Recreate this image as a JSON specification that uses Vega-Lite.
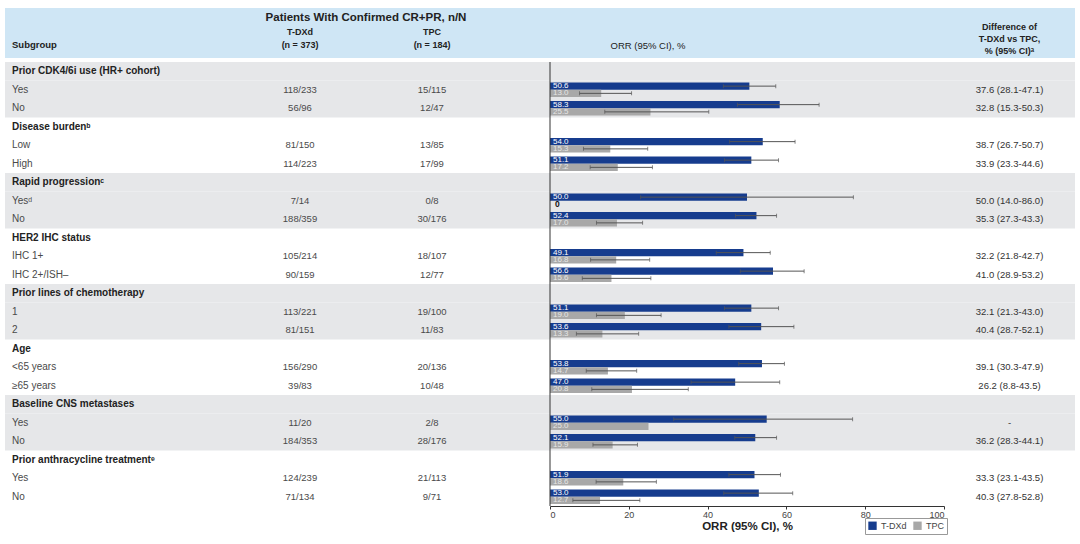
{
  "$schema": "https://vega.github.io/schema/vega-lite/v6.json",
  "padding": {"left": 5, "top": 8, "right": 5, "bottom": 0},
  "background": "white",
  "spacing": 3,
  "config": {
    "view": {"stroke": null},
    "font": "Liberation Sans",
    "text": {"font": "Liberation Sans"}
  },
  "datasets": {
    "rows": [
      {"row": 1, "gi": 0, "type": "cat", "label": "Prior CDK4/6i use (HR+ cohort)"},
      {"row": 2, "gi": 0, "type": "item", "label": "Yes", "tdxd_n": "118/233", "tpc_n": "15/115", "diff": "37.6 (28.1-47.1)"},
      {"row": 3, "gi": 0, "type": "item", "label": "No", "tdxd_n": "56/96", "tpc_n": "12/47", "diff": "32.8 (15.3-50.3)"},
      {"row": 4, "gi": 1, "type": "cat", "label": "Disease burdenᵇ"},
      {"row": 5, "gi": 1, "type": "item", "label": "Low", "tdxd_n": "81/150", "tpc_n": "13/85", "diff": "38.7 (26.7-50.7)"},
      {"row": 6, "gi": 1, "type": "item", "label": "High", "tdxd_n": "114/223", "tpc_n": "17/99", "diff": "33.9 (23.3-44.6)"},
      {"row": 7, "gi": 2, "type": "cat", "label": "Rapid progressionᶜ"},
      {"row": 8, "gi": 2, "type": "item", "label": "Yesᵈ", "tdxd_n": "7/14", "tpc_n": "0/8", "diff": "50.0 (14.0-86.0)"},
      {"row": 9, "gi": 2, "type": "item", "label": "No", "tdxd_n": "188/359", "tpc_n": "30/176", "diff": "35.3 (27.3-43.3)"},
      {"row": 10, "gi": 3, "type": "cat", "label": "HER2 IHC status"},
      {"row": 11, "gi": 3, "type": "item", "label": "IHC 1+", "tdxd_n": "105/214", "tpc_n": "18/107", "diff": "32.2 (21.8-42.7)"},
      {"row": 12, "gi": 3, "type": "item", "label": "IHC 2+/ISH–", "tdxd_n": "90/159", "tpc_n": "12/77", "diff": "41.0 (28.9-53.2)"},
      {"row": 13, "gi": 4, "type": "cat", "label": "Prior lines of chemotherapy"},
      {"row": 14, "gi": 4, "type": "item", "label": "1", "tdxd_n": "113/221", "tpc_n": "19/100", "diff": "32.1 (21.3-43.0)"},
      {"row": 15, "gi": 4, "type": "item", "label": "2", "tdxd_n": "81/151", "tpc_n": "11/83", "diff": "40.4 (28.7-52.1)"},
      {"row": 16, "gi": 5, "type": "cat", "label": "Age"},
      {"row": 17, "gi": 5, "type": "item", "label": "<65 years", "tdxd_n": "156/290", "tpc_n": "20/136", "diff": "39.1 (30.3-47.9)"},
      {"row": 18, "gi": 5, "type": "item", "label": "≥65 years", "tdxd_n": "39/83", "tpc_n": "10/48", "diff": "26.2 (8.8-43.5)"},
      {"row": 19, "gi": 6, "type": "cat", "label": "Baseline CNS metastases"},
      {"row": 20, "gi": 6, "type": "item", "label": "Yes", "tdxd_n": "11/20", "tpc_n": "2/8", "diff": "-"},
      {"row": 21, "gi": 6, "type": "item", "label": "No", "tdxd_n": "184/353", "tpc_n": "28/176", "diff": "36.2 (28.3-44.1)"},
      {"row": 22, "gi": 7, "type": "cat", "label": "Prior anthracycline treatmentᵉ"},
      {"row": 23, "gi": 7, "type": "item", "label": "Yes", "tdxd_n": "124/239", "tpc_n": "21/113", "diff": "33.3 (23.1-43.5)"},
      {"row": 24, "gi": 7, "type": "item", "label": "No", "tdxd_n": "71/134", "tpc_n": "9/71", "diff": "40.3 (27.8-52.8)"}
    ],
    "bars": [
      {"row": 2, "series": "T-DXd", "orr": 50.6, "lo": 44.0, "hi": 57.3},
      {"row": 2, "series": "TPC", "orr": 13.0, "lo": 7.5, "hi": 20.7},
      {"row": 3, "series": "T-DXd", "orr": 58.3, "lo": 47.6, "hi": 68.3},
      {"row": 3, "series": "TPC", "orr": 25.5, "lo": 13.9, "hi": 40.3},
      {"row": 5, "series": "T-DXd", "orr": 54.0, "lo": 45.6, "hi": 62.2},
      {"row": 5, "series": "TPC", "orr": 15.3, "lo": 8.5, "hi": 24.8},
      {"row": 6, "series": "T-DXd", "orr": 51.1, "lo": 44.3, "hi": 58.0},
      {"row": 6, "series": "TPC", "orr": 17.2, "lo": 10.2, "hi": 26.0},
      {"row": 8, "series": "T-DXd", "orr": 50.0, "lo": 23.0, "hi": 77.0},
      {"row": 8, "series": "TPC", "orr": 0, "lo": null, "hi": null},
      {"row": 9, "series": "T-DXd", "orr": 52.4, "lo": 47.1, "hi": 57.5},
      {"row": 9, "series": "TPC", "orr": 17.0, "lo": 11.8, "hi": 23.5},
      {"row": 11, "series": "T-DXd", "orr": 49.1, "lo": 42.2, "hi": 55.9},
      {"row": 11, "series": "TPC", "orr": 16.8, "lo": 10.3, "hi": 25.3},
      {"row": 12, "series": "T-DXd", "orr": 56.6, "lo": 48.3, "hi": 64.5},
      {"row": 12, "series": "TPC", "orr": 15.6, "lo": 8.2, "hi": 25.6},
      {"row": 14, "series": "T-DXd", "orr": 51.1, "lo": 44.3, "hi": 58.0},
      {"row": 14, "series": "TPC", "orr": 19.0, "lo": 11.8, "hi": 28.2},
      {"row": 15, "series": "T-DXd", "orr": 53.6, "lo": 45.4, "hi": 61.9},
      {"row": 15, "series": "TPC", "orr": 13.3, "lo": 6.7, "hi": 22.5},
      {"row": 17, "series": "T-DXd", "orr": 53.8, "lo": 47.9, "hi": 59.5},
      {"row": 17, "series": "TPC", "orr": 14.7, "lo": 9.2, "hi": 22.0},
      {"row": 18, "series": "T-DXd", "orr": 47.0, "lo": 35.8, "hi": 58.3},
      {"row": 18, "series": "TPC", "orr": 20.8, "lo": 10.6, "hi": 35.1},
      {"row": 20, "series": "T-DXd", "orr": 55.0, "lo": 31.4, "hi": 76.8},
      {"row": 20, "series": "TPC", "orr": 25.0, "lo": null, "hi": null},
      {"row": 21, "series": "T-DXd", "orr": 52.1, "lo": 46.9, "hi": 57.5},
      {"row": 21, "series": "TPC", "orr": 15.9, "lo": 10.9, "hi": 22.2},
      {"row": 23, "series": "T-DXd", "orr": 51.9, "lo": 45.4, "hi": 58.5},
      {"row": 23, "series": "TPC", "orr": 18.6, "lo": 11.7, "hi": 27.0},
      {"row": 24, "series": "T-DXd", "orr": 53.0, "lo": 44.1, "hi": 61.6},
      {"row": 24, "series": "TPC", "orr": 12.7, "lo": 5.8, "hi": 22.8}
    ]
  },
  "vconcat": [
    {
      "spacing": 0,
      "bounds": "flush",
      "hconcat": [
        {
          "width": 229, "height": 50,
          "view": {"fill": "#cfe6f5", "stroke": null},
          "data": {"values": [{"t": "Subgroup"}]},
          "mark": {"type": "text", "align": "left", "dx": 7, "dy": 12, "fontWeight": "bold", "fontSize": 9.5, "color": "#222"},
          "encoding": {"text": {"field": "t"}, "x": {"value": 0}}
        },
        {
          "width": 264, "height": 50,
          "view": {"fill": "#cfe6f5", "stroke": null},
          "layer": [
            {
              "data": {"values": [{"t": "Patients With Confirmed CR+PR, n/N"}]},
              "mark": {"type": "text", "dy": -15, "fontWeight": "bold", "fontSize": 11.5, "color": "#222"},
              "encoding": {"text": {"field": "t"}}
            },
            {
              "data": {"values": [{"col": "tdxd_n", "t": "T-DXd\n(n = 373)"}, {"col": "tpc_n", "t": "TPC\n(n = 184)"}]},
              "mark": {"type": "text", "dy": -1, "fontWeight": "bold", "fontSize": 9, "lineBreak": "\n", "lineHeight": 13, "color": "#222"},
              "encoding": {
                "text": {"field": "t"},
                "x": {"field": "col", "type": "nominal", "axis": null, "scale": {"domain": ["tdxd_n", "tpc_n"], "paddingInner": 0, "paddingOuter": 0}}
              }
            }
          ]
        },
        {
          "width": 300, "height": 50,
          "view": {"fill": "#cfe6f5", "stroke": null},
          "data": {"values": [{"t": "ORR (95% CI), %"}]},
          "mark": {"type": "text", "dy": 13, "fontSize": 9.5, "color": "#222"},
          "encoding": {"text": {"field": "t"}}
        },
        {
          "width": 146, "height": 50,
          "view": {"fill": "#cfe6f5", "stroke": null},
          "data": {"values": [{"t": ""}]},
          "mark": {"type": "text"},
          "encoding": {"text": {"field": "t"}}
        },
        {
          "width": 131, "height": 50,
          "view": {"fill": "#cfe6f5", "stroke": null},
          "data": {"values": [{"t": "Difference of\nT-DXd vs TPC,\n% (95% CI)ᵃ"}]},
          "mark": {"type": "text", "dy": -6, "fontWeight": "bold", "fontSize": 9, "lineBreak": "\n", "lineHeight": 12, "color": "#222"},
          "encoding": {"text": {"field": "t"}}
        }
      ]
    },
    {
      "spacing": 0,
      "bounds": "flush",
      "hconcat": [
        {
          "width": 229, "height": 444,
          "data": {"name": "rows"},
          "encoding": {"y": {"field": "row", "type": "ordinal", "axis": null, "scale": {"domain": [1,2,3,4,5,6,7,8,9,10,11,12,13,14,15,16,17,18,19,20,21,22,23,24], "paddingInner": 0, "paddingOuter": 0}}},
          "layer": [
            {"transform": [{"filter": {"field": "gi", "oneOf": [0, 2, 4, 6]}}], "mark": {"type": "rect", "fill": "#e6e7e9"}},
            {"transform": [{"filter": {"field": "type", "equal": "cat"}}], "mark": {"type": "text", "align": "left", "dx": 7, "fontWeight": "bold", "fontSize": 10, "color": "#222"}, "encoding": {"x": {"value": 0}, "text": {"field": "label"}}},
            {"transform": [{"filter": {"field": "type", "equal": "item"}}], "mark": {"type": "text", "align": "left", "dx": 7, "fontSize": 10, "color": "#4a4a4a"}, "encoding": {"x": {"value": 0}, "text": {"field": "label"}}}
          ]
        },
        {
          "width": 264, "height": 444,
          "data": {"name": "rows"},
          "encoding": {"y": {"field": "row", "type": "ordinal", "axis": null, "scale": {"domain": [1,2,3,4,5,6,7,8,9,10,11,12,13,14,15,16,17,18,19,20,21,22,23,24], "paddingInner": 0, "paddingOuter": 0}}},
          "layer": [
            {"transform": [{"filter": {"field": "gi", "oneOf": [0, 2, 4, 6]}}], "mark": {"type": "rect", "fill": "#e6e7e9"}},
            {
              "transform": [{"filter": {"field": "type", "equal": "item"}}, {"fold": ["tdxd_n", "tpc_n"], "as": ["col", "val"]}],
              "mark": {"type": "text", "fontSize": 9.5, "color": "#4a4a4a"},
              "encoding": {
                "x": {"field": "col", "type": "nominal", "axis": null, "scale": {"domain": ["tdxd_n", "tpc_n"], "paddingInner": 0, "paddingOuter": 0}},
                "text": {"field": "val"}
              }
            }
          ]
        },
        {
          "width": 52, "height": 444,
          "data": {"name": "rows"},
          "transform": [{"filter": {"field": "gi", "oneOf": [0, 2, 4, 6]}}],
          "mark": {"type": "rect", "fill": "#e6e7e9"},
          "encoding": {"y": {"field": "row", "type": "ordinal", "axis": null, "scale": {"domain": [1,2,3,4,5,6,7,8,9,10,11,12,13,14,15,16,17,18,19,20,21,22,23,24], "paddingInner": 0, "paddingOuter": 0}}}
        },
        {
          "width": 394, "height": 444,
          "layer": [
            {
              "data": {"name": "rows"},
              "transform": [{"filter": {"field": "gi", "oneOf": [0, 2, 4, 6]}}],
              "mark": {"type": "rect", "fill": "#e6e7e9"},
              "encoding": {"y": {"field": "row", "type": "ordinal", "axis": null, "scale": {"domain": [1,2,3,4,5,6,7,8,9,10,11,12,13,14,15,16,17,18,19,20,21,22,23,24], "paddingInner": 0, "paddingOuter": 0}}}
            },
            {
              "data": {"name": "bars"},
              "mark": {"type": "bar"},
              "encoding": {
                "y": {"field": "row", "type": "ordinal"},
                "yOffset": {"field": "series", "type": "nominal", "scale": {"domain": ["T-DXd", "TPC"], "paddingInner": 0, "paddingOuter": 0.28}},
                "x": {"field": "orr", "type": "quantitative", "scale": {"domain": [0, 100], "nice": false},
                  "axis": {"values": [0, 20, 40, 60, 80, 100], "title": "ORR (95% CI), %", "titleFontSize": 11.5, "titleFontWeight": "bold", "titleColor": "#222", "titlePadding": 1, "labelFontSize": 9, "labelColor": "#444", "tickColor": "#333", "domainColor": "#333", "tickSize": 3, "grid": false, "labelPadding": 1}},
                "color": {"field": "series", "type": "nominal", "scale": {"domain": ["T-DXd", "TPC"], "range": ["#163c8e", "#a8a8a8"]},
                  "legend": {"orient": "none", "direction": "horizontal", "legendX": 860, "legendY": 510, "title": null, "strokeColor": "#999", "padding": 3, "symbolType": "square", "symbolSize": 70, "symbolStrokeWidth": 0, "labelFontSize": 9, "labelColor": "#444", "columnPadding": 6}}
              }
            },
            {
              "data": {"name": "bars"},
              "transform": [{"filter": "isValid(datum.lo)"}],
              "mark": {"type": "rule", "color": "#555", "strokeWidth": 1},
              "encoding": {
                "y": {"field": "row", "type": "ordinal"},
                "yOffset": {"field": "series", "type": "nominal"},
                "x": {"field": "lo", "type": "quantitative"},
                "x2": {"field": "hi"}
              }
            },
            {
              "data": {"name": "bars"},
              "transform": [{"filter": "isValid(datum.lo)"}],
              "mark": {"type": "tick", "color": "#555", "size": 4, "thickness": 1},
              "encoding": {
                "y": {"field": "row", "type": "ordinal"},
                "yOffset": {"field": "series", "type": "nominal"},
                "x": {"field": "lo", "type": "quantitative"}
              }
            },
            {
              "data": {"name": "bars"},
              "transform": [{"filter": "isValid(datum.hi)"}],
              "mark": {"type": "tick", "color": "#555", "size": 4, "thickness": 1},
              "encoding": {
                "y": {"field": "row", "type": "ordinal"},
                "yOffset": {"field": "series", "type": "nominal"},
                "x": {"field": "hi", "type": "quantitative"}
              }
            },
            {
              "data": {"name": "bars"},
              "transform": [{"filter": "datum.orr > 0"}],
              "mark": {"type": "text", "align": "left", "dx": 3, "fontSize": 8},
              "encoding": {
                "y": {"field": "row", "type": "ordinal"},
                "yOffset": {"field": "series", "type": "nominal"},
                "x": {"datum": 0},
                "text": {"field": "orr", "type": "quantitative", "format": ".1f"},
                "color": {"condition": {"test": "datum.series == 'T-DXd'", "value": "#ffffff"}, "value": "#e6e6e6"}
              }
            },
            {
              "data": {"name": "bars"},
              "transform": [{"filter": "datum.orr == 0"}],
              "mark": {"type": "text", "align": "left", "dx": 5, "fontSize": 8.5, "fontWeight": "bold", "color": "#111"},
              "encoding": {
                "y": {"field": "row", "type": "ordinal"},
                "yOffset": {"field": "series", "type": "nominal"},
                "x": {"datum": 0},
                "text": {"field": "orr", "type": "quantitative", "format": "d"}
              }
            },
            {
              "data": {"values": [{"v": 0}]},
              "mark": {"type": "rule", "color": "#333", "strokeWidth": 1},
              "encoding": {"x": {"field": "v", "type": "quantitative"}}
            }
          ]
        },
        {
          "width": 131, "height": 444,
          "data": {"name": "rows"},
          "encoding": {"y": {"field": "row", "type": "ordinal", "axis": null, "scale": {"domain": [1,2,3,4,5,6,7,8,9,10,11,12,13,14,15,16,17,18,19,20,21,22,23,24], "paddingInner": 0, "paddingOuter": 0}}},
          "layer": [
            {"transform": [{"filter": {"field": "gi", "oneOf": [0, 2, 4, 6]}}], "mark": {"type": "rect", "fill": "#e6e7e9"}},
            {"transform": [{"filter": {"field": "type", "equal": "item"}}], "mark": {"type": "text", "fontSize": 9.5, "color": "#333"}, "encoding": {"text": {"field": "diff"}}}
          ]
        }
      ]
    }
  ]
}
